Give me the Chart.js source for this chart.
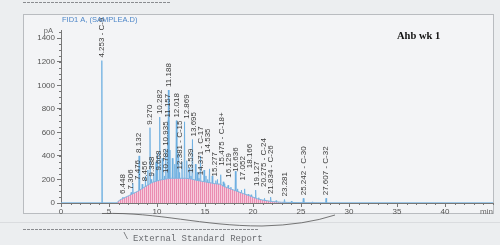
<!DOCTYPE html>
<html>
<head>
<meta charset="utf-8">
<script src="https://cdn.jsdelivr.net/npm/chart.js@4.4.1/dist/chart.umd.min.js"></script>
<style>
  html, body { margin: 0; padding: 0; background: #eceef0; }
  #wrap { position: relative; width: 500px; height: 245px; }
</style>
</head>
<body>
<div id="wrap"><canvas id="fid" width="500" height="245"></canvas></div>
<script>
// ── FID1 A chromatogram (Ahb wk 1) ──

// labelled peaks: retention time (min), apex (pA), label
const peakTimes   = [4.253, 6.448, 7.306, 7.476, 8.132, 8.456, 9.270, 9.388, 9.668, 10.282, 10.782, 10.935, 11.157, 11.188, 12.018, 12.381, 12.869, 13.539, 13.695, 14.371, 14.535, 15.277, 15.475, 16.129, 16.636, 17.052, 18.166, 19.127, 20.275, 21.834, 23.281, 25.242, 27.607];
const peakHeights = [1210, 50, 90, 170, 400, 160, 640, 200, 250, 730, 230, 460, 700, 960, 700, 260, 690, 230, 540, 210, 400, 200, 290, 190, 240, 165, 270, 120, 110, 50, 30, 40, 40];
const peakLabels  = ['4.253 - C-9', '6.448', '7.306', '7.476', '8.132', '8.456', '9.270', '9.388', '9.668', '10.282', '10.782', '10.935', '11.157', '11.188', '12.018', '12.381 - C-15', '12.869', '13.539', '13.695', '14.371 - C-17', '14.535', '15.277', '15.475 - C-18+', '16.129', '16.636', '17.052', '18.166', '19.127', '20.275 - C-24', '21.834 - C-26', '23.281', '25.242 - C-30', '27.607 - C-32'];

// unlabelled spikes riding on the hump
const minorTimes   = [8.8, 9.05, 9.9, 10.05, 10.55, 11.35, 11.6, 11.85, 12.25, 12.6, 13.1, 13.35, 14.0, 14.2, 14.9, 15.1, 15.75, 16.3, 16.9, 17.4, 17.7, 18.4, 18.8, 19.5, 19.8, 20.6, 21.2, 22.4, 24.0, 26.2];
const minorHeights = [230, 280, 350, 420, 380, 450, 380, 330, 420, 350, 360, 300, 330, 260, 280, 230, 230, 200, 180, 150, 135, 120, 110, 75, 70, 45, 40, 20, 15, 10];

// unresolved hump under the peaks
const humpTimes  = [0, 5.8, 6.1, 7, 8, 8.2, 9, 9.5, 10.3, 11, 11.5, 12, 13, 13.5, 14, 15, 16, 16.6, 17, 18, 19, 19.5, 20, 20.5, 21, 22, 23, 25, 28, 45];
const humpValues = [0, 0, 25, 60, 100, 110, 150, 175, 195, 205, 210, 210, 210, 205, 195, 180, 165, 160, 140, 110, 80, 65, 50, 35, 25, 12, 6, 3, 0, 0];

const xTicks = [0, 5, 10, 15, 20, 25, 30, 35, 40];
const yTicks = [0, 200, 400, 600, 800, 1000, 1200, 1400];

const PEAK_HALF = 0.06;
const FONT = '"Liberation Sans", Arial, sans-serif';

// build the detector trace: baseline with a thin spike per peak
const spikes = peakTimes.map((t, i) => ({ t, h: peakHeights[i] }))
  .concat(minorTimes.map((t, i) => ({ t, h: minorHeights[i] })))
  .sort((a, b) => a.t - b.t);
const trace = [{ x: 0, y: 0 }];
spikes.forEach(p => {
  trace.push({ x: p.t - PEAK_HALF, y: 0 }, { x: p.t, y: p.h }, { x: p.t + PEAK_HALF, y: 0 });
});
trace.push({ x: 45, y: 0 });

const hump = humpTimes.map((t, i) => ({ x: t, y: humpValues[i] }));

// striped pink fill like the printout
function stripes() {
  const c = document.createElement('canvas');
  c.width = 2; c.height = 1;
  const g = c.getContext('2d');
  g.fillStyle = '#ea8cb1'; g.fillRect(0, 0, 1, 1);
  g.fillStyle = '#f6cadb'; g.fillRect(1, 0, 1, 1);
  return g.createPattern(c, 'repeat');
}

const framePlugin = {
  id: 'frame',
  beforeDraw(chart) {
    const ctx = chart.ctx;
    ctx.save();
    ctx.fillStyle = '#f3f4f6';
    ctx.fillRect(23.5, 14.5, 470, 199);
    ctx.strokeStyle = '#b9bcc0';
    ctx.lineWidth = 1;
    ctx.strokeRect(23.5, 14.5, 470, 199);
    ctx.restore();
  },
  afterDraw(chart) {
    const { ctx, scales: { x, y } } = chart;
    ctx.save();
    // minor ticks
    ctx.strokeStyle = '#777';
    ctx.lineWidth = 1;
    ctx.beginPath();
    for (let m = 0; m <= 45; m++) {
      const px = Math.round(x.getPixelForValue(m)) + 0.5;
      ctx.moveTo(px, y.bottom); ctx.lineTo(px, y.bottom + 2);
    }
    for (let v = 0; v <= 1450; v += 50) {
      const py = Math.round(y.getPixelForValue(v)) + 0.5;
      ctx.moveTo(x.left, py); ctx.lineTo(x.left - 2, py);
    }
    ctx.stroke();

    ctx.font = '7.5px ' + FONT;
    ctx.fillStyle = '#4d86c8';
    ctx.textBaseline = 'alphabetic';
    ctx.fillText('FID1 A, (SAMPLEA.D)', 62, 22);
    ctx.fillStyle = '#666';
    ctx.textAlign = 'right';
    ctx.fillText('pA', 53, 33);
    ctx.font = '8px ' + FONT;
    ctx.fillText('min', 493, 214);

    ctx.textAlign = 'left';
    ctx.fillStyle = '#111';
    ctx.font = 'bold 10.5px "Liberation Serif", "Times New Roman", serif';
    ctx.fillText('Ahb wk 1', 397, 39);

    // printout leftovers outside the frame
    ctx.strokeStyle = '#8a8c90';
    ctx.setLineDash([3, 1]);
    ctx.beginPath();
    ctx.moveTo(23, 2.5); ctx.lineTo(170, 2.5);
    ctx.moveTo(23, 229.5); ctx.lineTo(258, 229.5);
    ctx.stroke();
    ctx.setLineDash([]);
    ctx.strokeStyle = '#dadcdf';
    ctx.beginPath(); ctx.moveTo(0, 222.5); ctx.lineTo(500, 222.5); ctx.stroke();
    ctx.strokeStyle = '#555';
    ctx.lineWidth = 0.8;
    ctx.beginPath();
    ctx.moveTo(102, 213.5);
    ctx.bezierCurveTo(160, 212, 200, 226, 262, 226);
    ctx.quadraticCurveTo(305, 225, 335, 215);
    ctx.stroke();

    ctx.fillStyle = '#6a6c70';
    ctx.font = '9px "Liberation Mono", "DejaVu Sans Mono", monospace';
    ctx.fillText('External Standard Report', 133, 241);
    ctx.fillText('\\', 123, 239);
    ctx.restore();
  }
};

const peakLabelPlugin = {
  id: 'peakLabels',
  afterDatasetsDraw(chart) {
    const { ctx, scales: { x, y } } = chart;
    ctx.save();
    ctx.font = '8px ' + FONT;
    ctx.fillStyle = '#3b3b3b';
    ctx.textBaseline = 'middle';
    const placed = [];
    peakTimes.forEach((t, i) => {
      let px = x.getPixelForValue(t);
      const bottom = y.getPixelForValue(peakHeights[i]) - 3;
      const top = bottom - ctx.measureText(peakLabels[i]).width;
      // nudge right when it would sit on a neighbour's label
      placed.forEach(p => {
        if (Math.abs(px - p.x) < 7 && top < p.bottom + 2 && bottom > p.top - 2) px = p.x + 7;
      });
      placed.push({ x: px, top, bottom });
      ctx.save();
      ctx.translate(px, bottom);
      ctx.rotate(-Math.PI / 2);
      ctx.fillText(peakLabels[i], 0, 0);
      ctx.restore();
    });
    ctx.restore();
  }
};

new Chart(document.getElementById('fid'), {
  type: 'line',
  data: {
    datasets: [
      {
        data: hump, order: 1, fill: 'origin',
        backgroundColor: stripes(), borderColor: '#7fb6e0', borderWidth: 1,
        pointRadius: 0, tension: 0
      },
      {
        data: trace, order: 2, fill: false,
        borderColor: '#68ace0', borderWidth: 0.8,
        pointRadius: 0, tension: 0
      }
    ]
  },
  options: {
    responsive: false, animation: false,
    layout: { padding: { left: 23, right: 7, top: 30, bottom: 0 } },
    plugins: { legend: { display: false }, tooltip: { enabled: false } },
    scales: {
      x: {
        type: 'linear', min: 0, max: 45,
        afterFit: s => { s.height = 42; },
        afterBuildTicks: s => { s.ticks = xTicks.map(v => ({ value: v })); },
        grid: { drawOnChartArea: false, tickLength: 4, color: '#777' },
        border: { color: '#777' },
        ticks: { padding: 0, color: '#555', font: { size: 8, family: FONT }, maxRotation: 0, callback: v => String(v) }
      },
      y: {
        min: 0, max: 1470,
        afterFit: s => { s.width = 38; },
        afterBuildTicks: s => { s.ticks = yTicks.map(v => ({ value: v })); },
        grid: { drawOnChartArea: false, tickLength: 4, color: '#777' },
        border: { color: '#777' },
        ticks: { padding: 2, color: '#555', font: { size: 8, family: FONT }, callback: v => String(v) }
      }
    }
  },
  plugins: [framePlugin, peakLabelPlugin]
});
</script>
</body>
</html>
